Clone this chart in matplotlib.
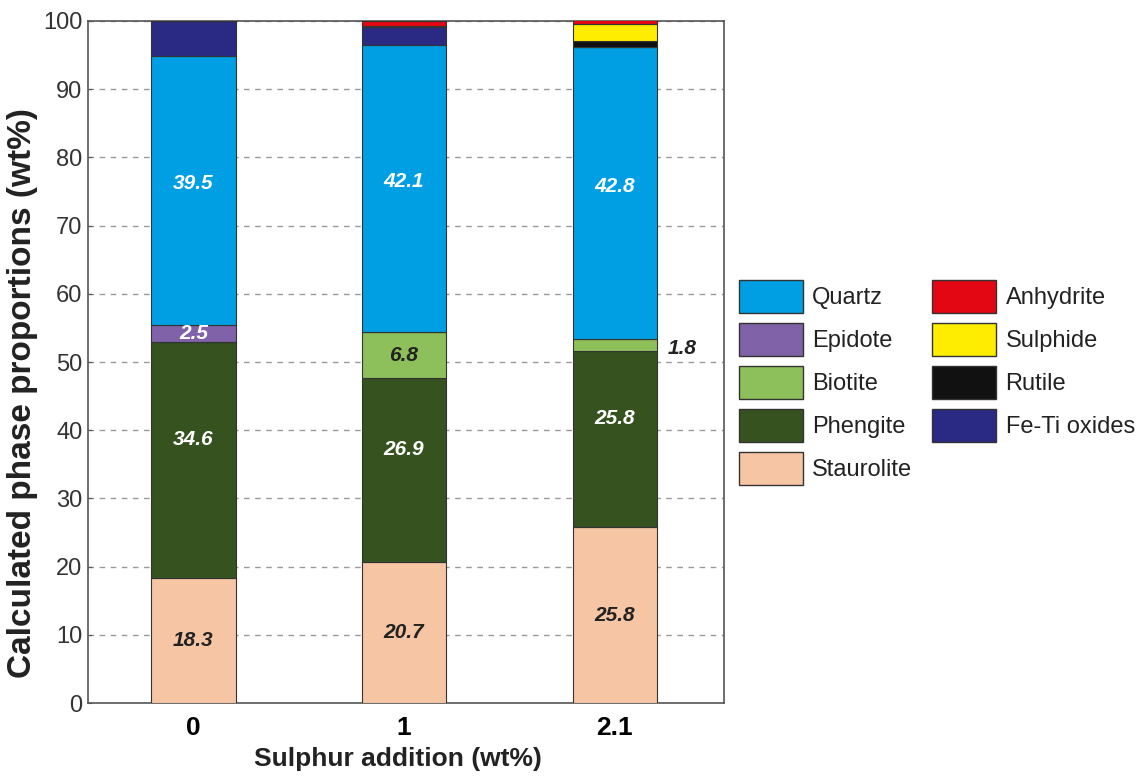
import numpy as np
import matplotlib
matplotlib.use("Agg")
import matplotlib.pyplot as plt
from matplotlib.patches import Patch

plt.rcParams['font.family'] = ['Liberation Sans', 'DejaVu Sans']

# data (wt%)
groups = ["0", "1", "2.1"]
phases = ["Staurolite", "Phengite", "Biotite", "Epidote", "Quartz",
          "Fe-Ti oxides", "Rutile", "Sulphide", "Anhydrite"]
staurolite = [18.3, 20.7, 25.8]
phengite = [34.6, 26.9, 25.8]
biotite = [0.0, 6.8, 1.8]
epidote = [2.5, 0.0, 0.0]
quartz = [39.5, 42.1, 42.8]
fe_ti = [5.1, 2.6, 0.0]
rutile = [0.0, 0.0, 0.8]
sulphide = [0.0, 0.2, 2.6]
anhydrite = [0.0, 0.7, 0.8]

colors = {
    "Quartz": "#009fe3", "Epidote": "#7f62a8", "Biotite": "#8dc05a",
    "Phengite": "#36521f", "Staurolite": "#f6c5a4", "Anhydrite": "#e30613",
    "Sulphide": "#ffed00", "Rutile": "#111111", "Fe-Ti oxides": "#2a2a84",
}
values = [staurolite, phengite, biotite, epidote, quartz,
          fe_ti, rutile, sulphide, anhydrite]

fig = plt.figure(figsize=(11.44, 7.76), dpi=100)
ax = fig.add_axes([0.077, 0.094, 0.556, 0.879])

x = np.arange(len(groups))
bottom = np.zeros(len(groups))
mids = {}
for name, vals in zip(phases, values):
    vals = np.array(vals)
    ax.bar(x, vals, 0.4, bottom=bottom, color=colors[name],
           edgecolor="#333333", linewidth=0.8, zorder=3)
    mids[name] = bottom + vals / 2
    bottom = bottom + vals

lab = dict(fontsize=15, fontweight="bold", fontstyle="italic",
           ha="center", va="center", zorder=4)
for i in range(3):
    ax.text(x[i], mids["Staurolite"][i], f"{staurolite[i]:.1f}", color="#222222", **lab)
    ax.text(x[i], mids["Phengite"][i] + 3, f"{phengite[i]:.1f}", color="white", **lab)
    ax.text(x[i], mids["Quartz"][i] + 1, f"{quartz[i]:.1f}", color="white", **lab)
ax.text(x[0], mids["Epidote"][0], f"{epidote[0]:.1f}", color="white", **lab)
ax.text(x[1], mids["Biotite"][1], f"{biotite[1]:.1f}", color="#222222", **lab)
ax.text(x[2] + 0.32, mids["Biotite"][2] - 0.5, f"{biotite[2]:.1f}", color="#222222", **lab)

ax.set_xlim(-0.5, 2.52)
ax.set_ylim(0, 100)
ax.set_yticks(np.arange(0, 101, 10))
ax.set_xticks(x)
ax.set_xticklabels(groups, fontsize=19, fontweight="bold")
ax.tick_params(axis="y", labelsize=17, length=3, direction="in", pad=4,
               color="#555555", labelcolor="#333333")
ax.tick_params(axis="x", length=0, pad=9)
ax.yaxis.grid(True, linestyle=(0, (4, 4)), color="#999999", linewidth=1, zorder=0)
for s in ax.spines.values():
    s.set_color("#555555")
    s.set_linewidth(1.2)

ax.set_xlabel("Sulphur addition (wt%)", fontsize=19, fontweight="bold", color="#222222")
ax.xaxis.set_label_coords(0.487, -0.064)
ax.set_ylabel("Calculated phase proportions (wt%)", fontsize=24, fontweight="bold", color="#222222")
ax.yaxis.set_label_coords(-0.078, 0.455)

order = ["Quartz", "Epidote", "Biotite", "Phengite", "Staurolite",
         "Anhydrite", "Sulphide", "Rutile", "Fe-Ti oxides"]
handles = [Patch(facecolor=colors[n], edgecolor="#333333", label=n) for n in order]
leg = fig.legend(handles=handles, ncol=2, loc="upper left", bbox_to_anchor=(0.646, 0.639),
                 frameon=False, fontsize=17, handlelength=2.7, handleheight=1.78,
                 labelspacing=0.42, columnspacing=0.85, handletextpad=0.4,
                 borderpad=0, borderaxespad=0)
for t in leg.get_texts():
    t.set_color("#222222")

fig.savefig("out.png", dpi=100)
